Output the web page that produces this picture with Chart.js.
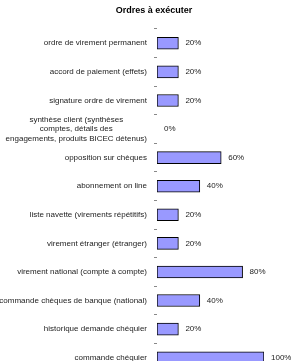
<!DOCTYPE html>
<html>
<head>
<meta charset="utf-8">
<script src="https://cdn.jsdelivr.net/npm/chart.js@4"></script>
<style>
    html, body { margin: 0; padding: 0; background: #fff; overflow: hidden; }
    #wrap { width: 291px; height: 361px; overflow: hidden; }
</style>
</head>
<body>
<div id="wrap"><canvas id="ordres"></canvas></div>
<script>
// Chart data
const chartTitle = 'Ordres à exécuter';
const categories = [
    'ordre de virement permanent',
    'accord de paiement (effets)',
    'signature ordre de virement',
    ['synthèse client (synthèses', 'comptes, détails des', 'engagements, produits BICEC détenus)'],
    'opposition sur chèques',
    'abonnement on line',
    'liste navette (virements répétitifs)',
    'virement étranger (étranger)',
    'virement national (compte à compte)',
    'commande chèques de banque (national)',
    'historique demande chéquier',
    'commande chéquier'
];
const percentValues = [20, 20, 20, 0, 60, 40, 20, 20, 80, 40, 20, 100];

const FONT = 'Liberation Sans, Arial, sans-serif';

// Category labels (multi-line block centred, right aligned), value labels, title
const decorPlugin = {
    id: 'decor',
    afterDatasetsDraw: (chart) => {
        const ctx = chart.ctx;
        const yScale = chart.scales.y;
        const meta = chart.getDatasetMeta(0);
        ctx.save();
        ctx.font = '8px ' + FONT;
        ctx.fillStyle = '#222';
        ctx.textBaseline = 'middle';

        const rightEdge = yScale.right - 10;
        const lineH = 9.5;
        chart.data.labels.forEach((label, i) => {
            const lines = Array.isArray(label) ? label : [label];
            const y = yScale.getPixelForTick(i);
            const widest = Math.max(...lines.map(l => ctx.measureText(l).width));
            const cx = rightEdge - widest / 2;
            ctx.textAlign = 'center';
            lines.forEach((line, j) => {
                ctx.fillText(line, cx, y + (j - (lines.length - 1) / 2) * lineH);
            });
        });

        ctx.textAlign = 'left';
        meta.data.forEach((bar, i) => {
            ctx.fillText(percentValues[i] + '%', bar.x + 7, bar.y);
        });

        ctx.font = 'bold 9px ' + FONT;
        ctx.fillStyle = '#000';
        ctx.textAlign = 'center';
        ctx.fillText(chartTitle, 154, 11);
        ctx.restore();
    }
};

const canvas = document.getElementById('ordres');
canvas.width = 291;
canvas.height = 373;

new Chart(canvas, {
    type: 'bar',
    data: {
        labels: categories,
        datasets: [{
            data: percentValues,
            backgroundColor: '#9999ff',
            borderColor: '#000',
            borderWidth: 1,
            borderSkipped: false,
            barThickness: 12
        }]
    },
    options: {
        indexAxis: 'y',
        responsive: false,
        animation: false,
        layout: { padding: { top: 29, right: 27, bottom: 1, left: 0 } },
        plugins: {
            legend: { display: false },
            title: { display: false },
            tooltip: { enabled: false }
        },
        scales: {
            x: { display: false, min: 0, max: 100 },
            y: {
                offset: true,
                afterFit: (scale) => { scale.width = 157; },
                border: { display: false },
                grid: { offset: true, drawOnChartArea: false, tickLength: 3, color: '#888' },
                ticks: { display: false, autoSkip: false }
            }
        }
    },
    plugins: [decorPlugin]
});
</script>
</body>
</html>
